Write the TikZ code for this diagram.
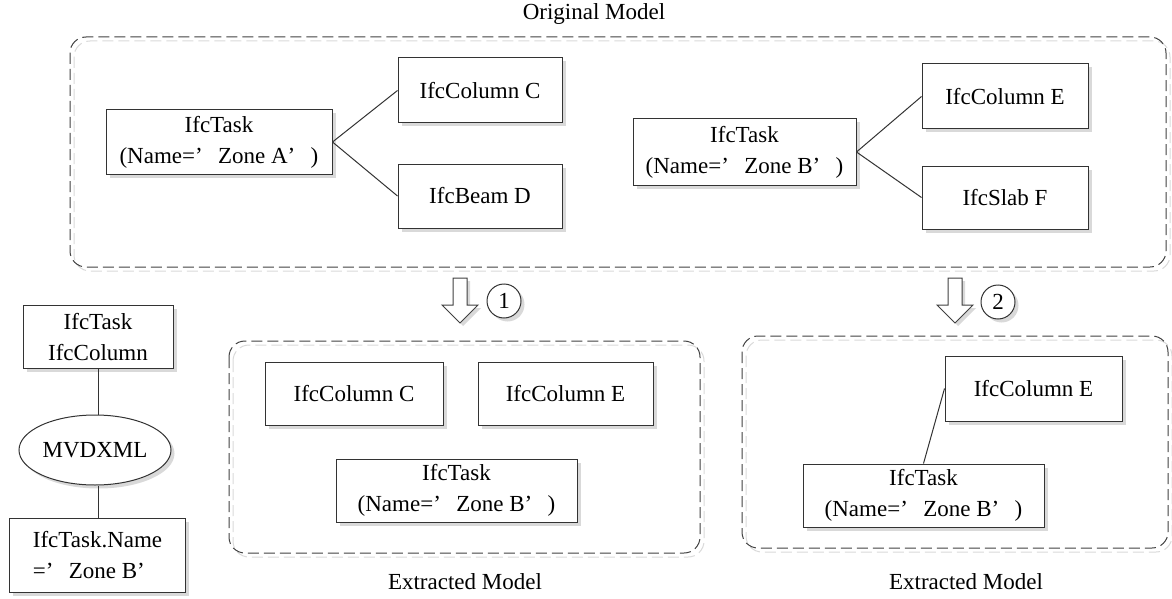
\documentclass[tikz,border=0pt]{standalone}
\usepackage{fontspec}
\setmainfont{Liberation Serif}
\usetikzlibrary{shapes.geometric,shadows}
\newcommand{\fq}{\makebox[1em][l]{’}}
\tikzset{
  txt/.style={font=\fontsize{23}{31}\selectfont, inner sep=0pt},
  shad/.style={general shadow={fill=black!15, shadow xshift=3.5pt, shadow yshift=-3.5pt}},
  ibox/.style={txt, draw=black!80, line width=1pt, fill=white, shad, align=center},
  link/.style={draw=black!80, line width=1pt},
  cont/.style={draw=black!75, line width=1pt, dash pattern=on 11pt off 5pt, rounded corners=16pt},
  contshad/.style={draw=black!15, line width=1pt, dash pattern=on 11pt off 5pt, rounded corners=16pt},
  hollow/.style={draw=black!75, line width=1pt, fill=white},
  hollowshad/.style={fill=black!15, draw=none},
  num/.style={txt, circle, draw=black!80, line width=1pt, fill=white, shad, minimum size=34pt},
}
\begin{document}
\begin{tikzpicture}[x=1pt, y=-1pt]
\useasboundingbox (0,0) rectangle (1172,599);

% containers
\draw[contshad] (74,41) rectangle (1170,271);
\draw[cont] (70,37) rectangle (1166,267);
\draw[contshad] (233,345) rectangle (704,557);
\draw[cont] (229,341) rectangle (700,553);
\draw[contshad] (746,340) rectangle (1172,552);
\draw[cont] (742,336) rectangle (1168,548);

\node[txt] (title) at (594,14) {Original Model};

% original model
\node[ibox, minimum width=226pt, minimum height=64pt] (ta) at (219,142) {IfcTask\\(Name=\fq Zone A\fq)};
\node[ibox, minimum width=164pt, minimum height=65pt] (cc) at (480,90.5) {IfcColumn C};
\node[ibox, minimum width=164pt, minimum height=64pt] (bd) at (480,196) {IfcBeam D};
\node[ibox, minimum width=223pt, minimum height=66pt] (tb) at (744.5,152) {IfcTask\\(Name=\fq Zone B\fq)};
\node[ibox, minimum width=166pt, minimum height=65pt] (ce) at (1005,96.5) {IfcColumn E};
\node[ibox, minimum width=166pt, minimum height=63pt] (sf) at (1005,197.5) {IfcSlab F};
\draw[link] (ta.east) -- (cc.west);
\draw[link] (ta.east) -- (bd.west);
\draw[link] (tb.east) -- (ce.west);
\draw[link] (tb.east) -- (sf.west);

% hollow arrows
\foreach \cx in {460,955}{
  \fill[hollowshad] (\cx-7+3,278+3) -- (\cx+7+3,278+3) -- (\cx+7+3,305+3) -- (\cx+18+3,305+3) -- (\cx+3,323+3) -- (\cx-18+3,305+3) -- (\cx-7+3,305+3) -- cycle;
  \draw[hollow] (\cx-7,278) -- (\cx+7,278) -- (\cx+7,305) -- (\cx+18,305) -- (\cx,323) -- (\cx-18,305) -- (\cx-7,305) -- cycle;
}
\node[num] (n1) at (504,301) {1};
\node[num] (n2) at (998,302) {2};

% extracted model 1
\node[ibox, minimum width=178pt, minimum height=63pt] (cc2) at (354,393.5) {IfcColumn C};
\node[ibox, minimum width=175pt, minimum height=63pt] (ce2) at (565.5,393.5) {IfcColumn E};
\node[ibox, minimum width=241pt, minimum height=63pt] (tb2) at (456.5,490.5) {IfcTask\\(Name=\fq Zone B\fq)};
\node[txt] (ex1) at (465,582) {Extracted Model};

% extracted model 2
\node[ibox, minimum width=177pt, minimum height=65pt] (ce3) at (1033.5,388.5) {IfcColumn E};
\node[ibox, minimum width=241pt, minimum height=63pt] (tb3) at (923.5,495.5) {IfcTask\\(Name=\fq Zone B\fq)};
\draw[link] (ce3.west) -- (tb3.north);
\node[txt] (ex2) at (966,582) {Extracted Model};

% left MVDXML column
\node[ibox, minimum width=150pt, minimum height=63pt] (lt) at (98,337) {IfcTask\\IfcColumn};
\node[txt, ellipse, draw=black!80, line width=1pt, fill=white, shad, minimum width=152pt, minimum height=70pt] (ell) at (95,450) {MVDXML};
\node[ibox, minimum width=176pt, minimum height=74pt, align=left] (lb) at (97.5,555) {IfcTask.Name\\=\fq Zone B’};
\draw[link] (lt.south) -- (lt.south |- ell.north);
\draw[link] (lt.south |- ell.south) -- (lt.south |- lb.north);
\end{tikzpicture}
\end{document}
